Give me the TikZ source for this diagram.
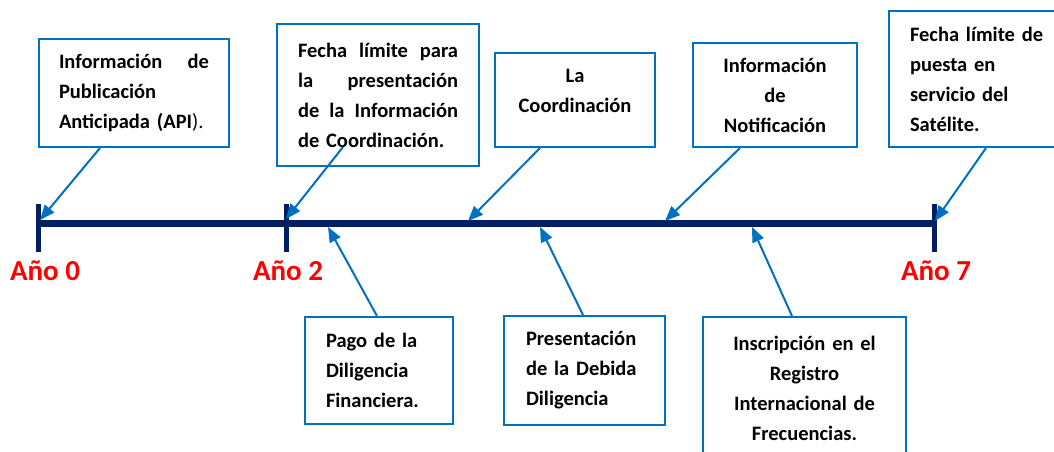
\documentclass[tikz,border=0pt]{standalone}
\usepackage{fontspec}
\setmainfont{Carlito}
\usepackage{xcolor}
\usetikzlibrary{arrows.meta,calc}
\definecolor{cajaazul}{HTML}{0070C0}
\definecolor{lineaazul}{HTML}{002060}

\begin{document}
\begin{tikzpicture}[x=1pt,y=-1pt,
    caja/.style={draw=cajaazul,line width=2pt,anchor=north west,inner sep=0pt,
      font=\fontsize{20.5}{30}\selectfont\bfseries},
    flecha/.style={cajaazul,line width=2pt,-{Triangle[length=15pt,width=12pt]}},
    anio/.style={red,font=\fontsize{29}{30}\selectfont\bfseries}]
  \useasboundingbox (0,0) rectangle (1054,451);
  \clip (0,0) rectangle (1054,451);
  % Timeline
  \coordinate (t0) at (38,223.5);
  \coordinate (t2) at (286,223.5);
  \coordinate (t7) at (934,223.5);
  \draw[lineaazul,line width=7pt] (t0) -- (t7);
  \foreach \t in {t0,t2,t7}
    \draw[lineaazul,line width=5pt] ($(\t)+(0,-20)$) -- ($(\t)+(0,28.5)$);
  \node[anio] (a0) at (45,271) {Año 0};
  \node[anio] (a2) at (288,271) {Año 2};
  \node[anio] (a7) at (936,271) {Año 7};
  % Boxes above
  \node[caja,minimum width=190,minimum height=108,text width=150,align=left]
    (api) at (38,38) {Información\hfill de\\Publicación\\Anticipada (API{\mdseries ).}};
  \node[caja,minimum width=202,minimum height=142,text width=160,align=left]
    (limite) at (276,23) {Fecha\hfill límite\hfill para\\la\hfill presentación\\
      de\hfill la\hfill Información\\de Coordinación.};
  \node[caja,minimum width=160,minimum height=94,text width=140,align=center]
    (coord) at (494,52) {La\\Coordinación\\[-12pt]\mbox{}};
  \node[caja,minimum width=164,minimum height=104,text width=140,align=center]
    (notif) at (692,42) {Información\\de\\Notificación};
  \node[caja,minimum width=192,minimum height=136,text width=150,align=left]
    (satelite) at (888,10) {Fecha límite de\\puesta en\\servicio del\\Satélite.};
  % Boxes below
  \node[caja,minimum width=148,minimum height=107,text width=106,align=left]
    (pago) at (304,316) {Pago de la\\Diligencia\\Financiera.};
  \node[caja,minimum width=161,minimum height=109,text width=117,align=left]
    (presen) at (503,315) {Presentación\\de la Debida\\Diligencia};
  \node[caja,minimum width=203,minimum height=142,text width=180,align=center]
    (inscrip) at (702,316) {Inscripción en el\\Registro\\Internacional de\\Frecuencias.};
  % Arrow ends on the timeline
  \coordinate (e1) at (40,220);
  \coordinate (e2) at (286,219);
  \coordinate (e3) at (468,221);
  \coordinate (e4) at (665,221);
  \coordinate (e5) at (935,221);
  \coordinate (f1) at (328,227);
  \coordinate (f2) at (540,227);
  \coordinate (f3) at (752,227);
  \draw[flecha] ($(api.south west)+(62,0)$) -- (e1);
  \draw[flecha] ($(limite.south west)+(67,-20)$) -- (e2);
  \draw[flecha] ($(coord.south west)+(46,0)$) -- (e3);
  \draw[flecha] ($(notif.south west)+(48,0)$) -- (e4);
  \draw[flecha] ($(satelite.south west)+(98,0)$) -- (e5);
  \draw[flecha] ($(pago.north west)+(73,0)$) -- (f1);
  \draw[flecha] ($(presen.north west)+(80,0)$) -- (f2);
  \draw[flecha] ($(inscrip.north west)+(90,0)$) -- (f3);
\end{tikzpicture}
\end{document}
